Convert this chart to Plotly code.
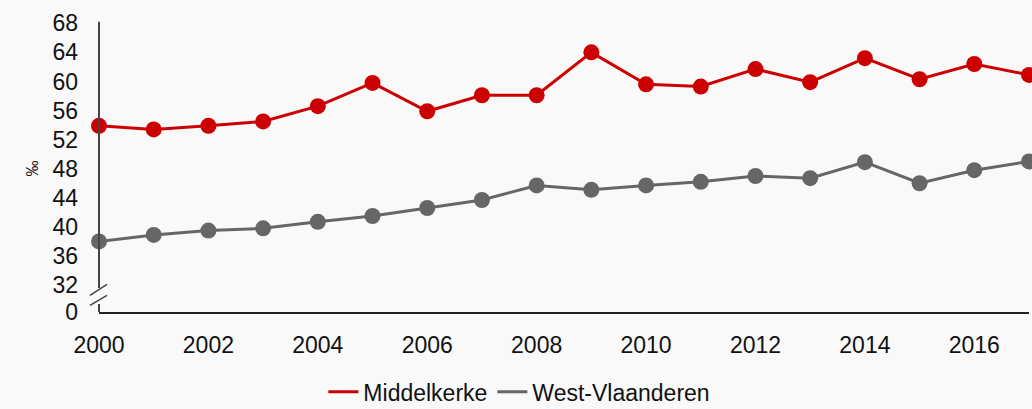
import plotly.graph_objects as go

years = list(range(2000, 2018))
middelkerke = [53.9, 53.4, 53.9, 54.5, 56.6, 59.8, 55.9, 58.1, 58.1, 64.0,
               59.6, 59.3, 61.7, 59.9, 63.2, 60.3, 62.4, 60.9]
west_vlaanderen = [38.0, 38.9, 39.5, 39.8, 40.7, 41.5, 42.6, 43.7, 45.7, 45.1,
                   45.7, 46.2, 47.0, 46.7, 48.9, 46.0, 47.8, 49.0]
series_names = ["Middelkerke", "West-Vlaanderen"]
series_colors = ["#cc0000", "#666666"]
x_ticks = [2000, 2002, 2004, 2006, 2008, 2010, 2012, 2014, 2016]
y_ticks = [32, 36, 40, 44, 48, 52, 56, 60, 64, 68]
y_zero_pos = 28.3  # position where the "0" label sits below the axis break
y_range = [28.3, 69.0]

FONT = "Liberation Sans, Arial, sans-serif"
fig = go.Figure()
for name, vals, col in zip(series_names, [middelkerke, west_vlaanderen], series_colors):
    fig.add_trace(go.Scatter(x=years, y=vals, mode="lines", name=name,
                             line=dict(color=col, width=3), cliponaxis=False))
for name, vals, col in zip(series_names, [middelkerke, west_vlaanderen], series_colors):
    fig.add_trace(go.Scatter(x=years, y=vals, mode="markers", name=name, showlegend=False,
                             marker=dict(color=col, size=16), cliponaxis=False))

def py(v):
    return (v - y_range[0]) / (y_range[1] - y_range[0])

ax_col = "#444444"
shapes = [
    dict(type="line", xref="paper", yref="paper", x0=0, x1=0, y0=py(31.6), y1=py(68.2),
         line=dict(color=ax_col, width=2)),
    dict(type="line", xref="paper", yref="paper", x0=0, x1=0, y0=py(y_zero_pos), y1=py(29.4),
         line=dict(color=ax_col, width=2)),
    dict(type="line", xref="paper", yref="paper", x0=-9/930, x1=8/930, y0=py(30.6), y1=py(32.1),
         line=dict(color=ax_col, width=1.5)),
    dict(type="line", xref="paper", yref="paper", x0=-9/930, x1=8/930, y0=py(29.2), y1=py(30.6),
         line=dict(color=ax_col, width=1.5)),
]

fig.update_layout(
    width=1032, height=409,
    margin=dict(l=99, r=3, t=16, b=97, autoexpand=False),
    paper_bgcolor="#f9f9f9", plot_bgcolor="#f9f9f9",
    font=dict(family=FONT, size=23, color="#111111"),
    showlegend=True,
    legend=dict(orientation="h", x=0.452, xanchor="center", y=-0.27,
                yanchor="middle",
                font=dict(size=23, color="#111111"), bgcolor="rgba(0,0,0,0)",
                itemwidth=30, tracegroupgap=0),
    shapes=shapes,
    annotations=[dict(text="‰", xref="paper", yref="paper", x=-0.083, y=0.486,
                      showarrow=False, textangle=-90, font=dict(size=16, color="#111111"))],
)
fig.update_xaxes(range=[2000, 2017], tickvals=x_ticks, ticktext=[str(t) for t in x_ticks],
                 showgrid=False, zeroline=False, showline=True, linecolor="#222222", linewidth=2,
                 ticks="", ticklabelstandoff=11)
fig.update_yaxes(range=y_range, tickvals=[y_zero_pos] + y_ticks,
                 ticktext=["0"] + [str(t) for t in y_ticks],
                 showgrid=False, zeroline=False, showline=False, ticks="", ticklabelstandoff=20)

fig.write_html("out.html", config={"displayModeBar": False},
               post_script="document.body.style.margin='0';document.body.style.background='#f9f9f9';")
